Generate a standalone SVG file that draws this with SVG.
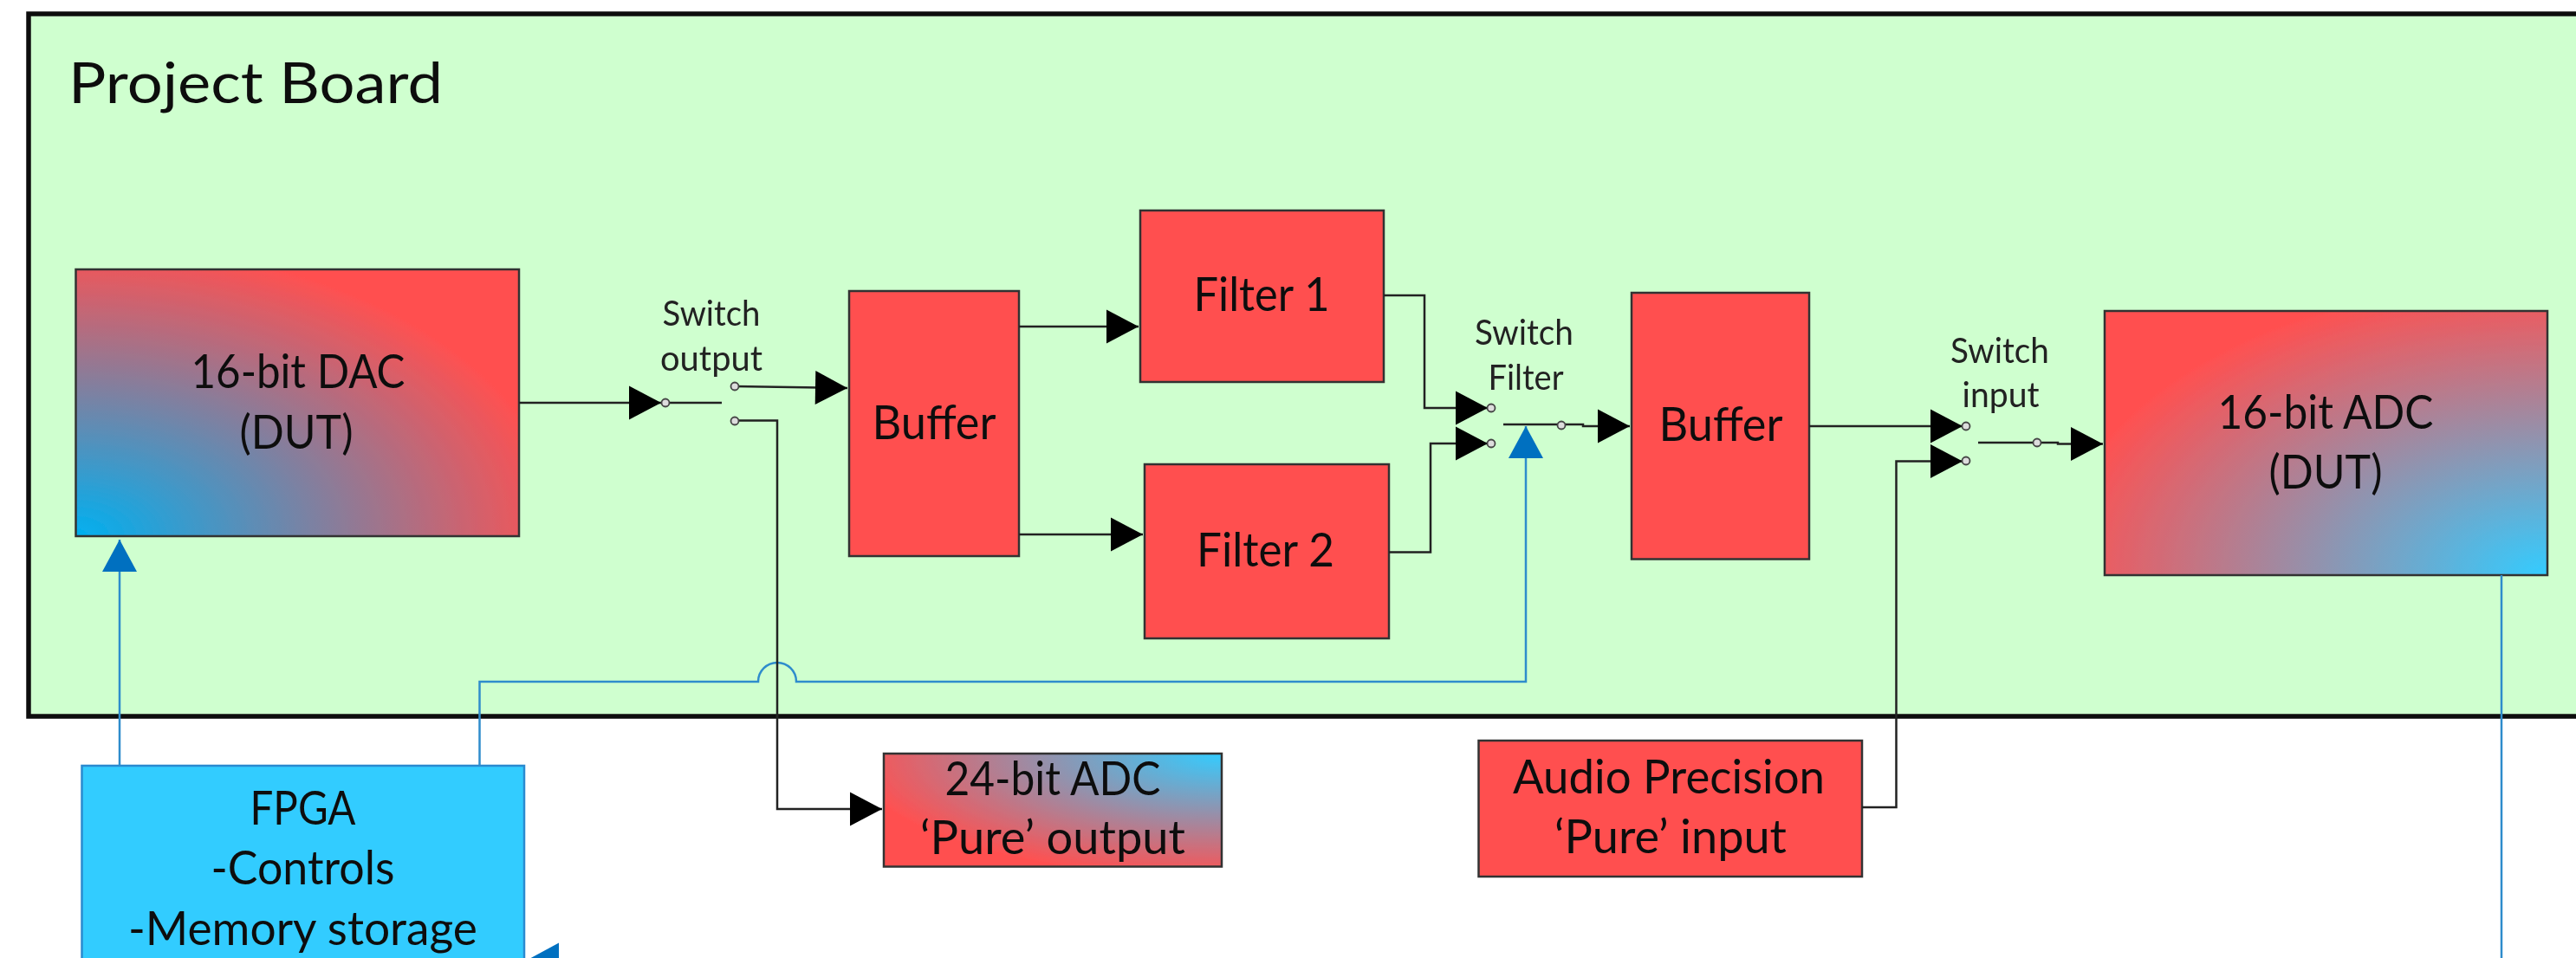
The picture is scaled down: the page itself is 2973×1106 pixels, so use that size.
<svg xmlns="http://www.w3.org/2000/svg" width="2973" height="1106" viewBox="0 0 2973 1106">
<style>
text{font-family:"Lato","Carlito","Liberation Sans",sans-serif;fill:#111;text-anchor:middle}
.b{font-size:55px}
.s{font-size:41px;fill:#222}
.box{stroke:#333;stroke-width:2.5}
.red{fill:#ff5050}
.k{fill:none;stroke:#222;stroke-width:2.5}
.ka{marker-end:url(#ak)}
.u{fill:none;stroke:#2f8ccc;stroke-width:2.5}
.ua{marker-end:url(#au)}
.c{fill:#ddd;stroke:#444;stroke-width:1.8}
</style>
<defs>
<marker id="ak" markerUnits="userSpaceOnUse" markerWidth="38" markerHeight="40" refX="37" refY="19.5" orient="auto" overflow="visible"><path d="M0 0L37 19.5L0 39z" fill="#000"/></marker>
<marker id="au" markerUnits="userSpaceOnUse" markerWidth="38" markerHeight="40" refX="37" refY="20" orient="auto" overflow="visible"><path d="M0 0L37 20L0 40z" fill="#0070c0"/></marker>
<radialGradient id="gDac" cx="0" cy="1" r="1.1"><stop offset="0" stop-color="#00b0f0"/><stop offset="1" stop-color="#ff5050"/></radialGradient>
<radialGradient id="gAdc" cx="1" cy="1" r="1.12"><stop offset="0" stop-color="#33ccff"/><stop offset="1" stop-color="#ff5050"/></radialGradient>
<radialGradient id="g24" cx="1" cy="0" r="1.1"><stop offset="0" stop-color="#33ccff"/><stop offset="1" stop-color="#ff5050"/></radialGradient>
<filter id="soft" filterUnits="userSpaceOnUse" x="-20" y="-20" width="3030" height="1150"><feGaussianBlur stdDeviation="0.7"/></filter>
</defs>
<rect width="2973" height="1106" fill="#fff"/>
<g filter="url(#soft)">
<g id="board">
<rect x="33" y="16" width="2980" height="811" fill="#cfffcf" stroke="#111" stroke-width="5.5"/>
<text x="295" y="119" style="font-size:66px" textLength="432" lengthAdjust="spacingAndGlyphs">Project Board</text>
</g>
<g id="dac"><rect class="box" x="87.5" y="311" width="511.500" height="308" fill="url(#gDac)"/>
<text class="b" x="344" y="448" textLength="247" lengthAdjust="spacingAndGlyphs">16-bit DAC</text>
<text class="b" x="342" y="518" textLength="131" lengthAdjust="spacingAndGlyphs">(DUT)</text></g>
<g id="buffer1"><rect class="box red" x="980" y="336" width="196" height="306"/>
<text class="b" x="1078" y="507" textLength="143" lengthAdjust="spacingAndGlyphs">Buffer</text></g>
<g id="filter1"><rect class="box red" x="1316" y="243" width="281" height="198"/>
<text class="b" x="1456" y="359" textLength="157" lengthAdjust="spacingAndGlyphs">Filter 1</text></g>
<g id="filter2"><rect class="box red" x="1321" y="536" width="282" height="201"/>
<text class="b" x="1460.500" y="654" textLength="159" lengthAdjust="spacingAndGlyphs">Filter 2</text></g>
<g id="buffer2"><rect class="box red" x="1883" y="338" width="205" height="307.500"/>
<text class="b" x="1986" y="509" textLength="143" lengthAdjust="spacingAndGlyphs">Buffer</text></g>
<g id="adc"><rect class="box" x="2429" y="359" width="511" height="305" fill="url(#gAdc)"/>
<text class="b" x="2684" y="495" textLength="249" lengthAdjust="spacingAndGlyphs">16-bit ADC</text>
<text class="b" x="2684" y="564" textLength="131" lengthAdjust="spacingAndGlyphs">(DUT)</text></g>
<g id="fpga"><rect x="94.500" y="884" width="510.500" height="240" fill="#33ccff" stroke="#2a8ad0" stroke-width="2.500"/>
<text class="b" x="349.500" y="952" textLength="122" lengthAdjust="spacingAndGlyphs">FPGA</text>
<text class="b" x="349.500" y="1021" textLength="212" lengthAdjust="spacingAndGlyphs">-Controls</text>
<text class="b" x="349.500" y="1091" textLength="403" lengthAdjust="spacingAndGlyphs">-Memory storage</text></g>
<g id="adc24"><rect class="box" x="1020" y="870" width="390" height="130.500" fill="url(#g24)"/>
<text class="b" x="1215" y="918" textLength="249" lengthAdjust="spacingAndGlyphs">24-bit ADC</text>
<text class="b" x="1215" y="986" textLength="306" lengthAdjust="spacingAndGlyphs">‘Pure’ output</text></g>
<g id="audio-precision"><rect class="box red" x="1706.500" y="855" width="442.500" height="157"/>
<text class="b" x="1926" y="916" textLength="360" lengthAdjust="spacingAndGlyphs">Audio Precision</text>
<text class="b" x="1928" y="985" textLength="268" lengthAdjust="spacingAndGlyphs">‘Pure’ input</text></g>
<g id="connectors">
<path class="u ua" d="M138 884V623"/>
<path class="u ua" d="M553.500 884V787H875A22 22 0 0 1 919 787H1761V492"/>
<path class="u ua" d="M2887 664V1108.500H608"/>
<path class="k ka" d="M599 465H763"/>
<path class="k" d="M768 465H833"/>
<path class="k ka" d="M848 446L978 448"/>
<path class="k ka" d="M848 485.500H897V934H1018"/>
<path class="k ka" d="M1176 377H1314"/>
<path class="k ka" d="M1176 617H1319"/>
<path class="k ka" d="M1597 341H1644V471H1717"/>
<path class="k ka" d="M1603 637.500H1651V512H1717"/>
<path class="k ka" d="M1735 490H1827V492H1881"/>
<path class="k ka" d="M2088 492H2265"/>
<path class="k ka" d="M2149 932H2188.500V532.500H2265"/>
<path class="k ka" d="M2283 511H2375V512.500H2427"/>
</g>
<g id="switch-output">
<text class="s" x="821" y="376" textLength="113" lengthAdjust="spacingAndGlyphs">Switch</text>
<text class="s" x="821" y="428" textLength="118" lengthAdjust="spacingAndGlyphs">output</text>
<circle class="c" cx="768" cy="465" r="4.500"/><circle class="c" cx="848" cy="446" r="4.500"/><circle class="c" cx="848" cy="486" r="4.500"/>
</g>
<g id="switch-filter">
<text class="s" x="1759" y="398" textLength="114" lengthAdjust="spacingAndGlyphs">Switch</text>
<text class="s" x="1761" y="450" textLength="87" lengthAdjust="spacingAndGlyphs">Filter</text>
<circle class="c" cx="1721" cy="471" r="4.500"/><circle class="c" cx="1721" cy="512" r="4.500"/><circle class="c" cx="1802" cy="491" r="4.500"/>
</g>
<g id="switch-input">
<text class="s" x="2308" y="419" textLength="114" lengthAdjust="spacingAndGlyphs">Switch</text>
<text class="s" x="2309" y="470" textLength="89" lengthAdjust="spacingAndGlyphs">input</text>
<circle class="c" cx="2269" cy="492" r="4.500"/><circle class="c" cx="2269" cy="532" r="4.500"/><circle class="c" cx="2351" cy="511" r="4.500"/>
</g>
</g>
</svg>
